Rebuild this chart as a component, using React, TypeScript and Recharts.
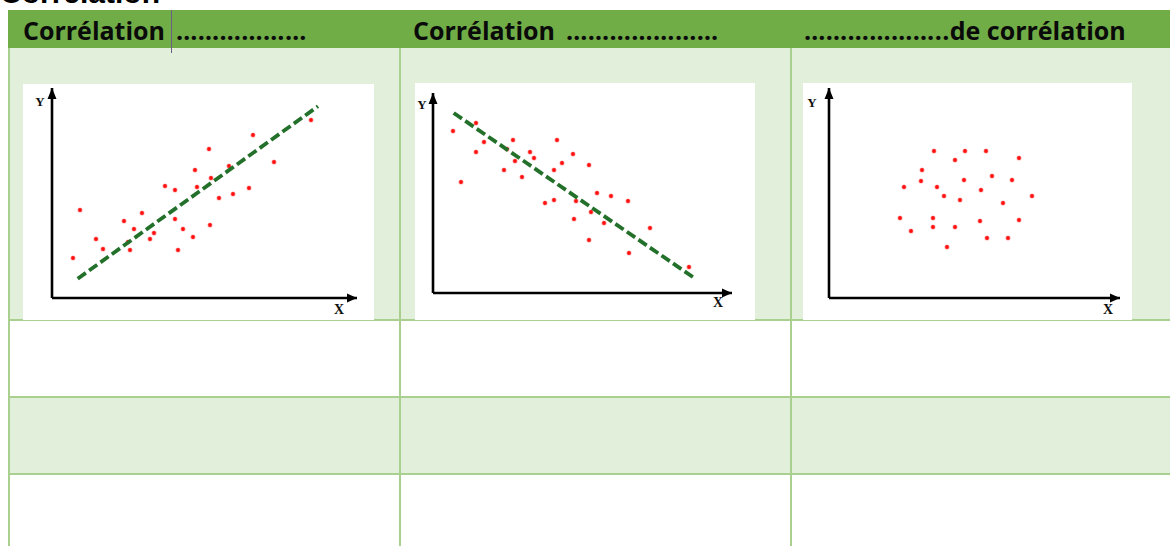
import { ScatterChart, Scatter, XAxis, YAxis } from 'recharts';

// positive correlation cloud
const posX = [2.1, 2.8, 4.4, 5.1, 7.2, 7.6, 7.8, 8.2, 9.0, 9.8, 10.2, 11.3, 12.3, 12.3, 12.6, 13.1, 14.1, 14.3, 14.5, 15.7, 15.8, 15.9, 16.7, 17.7, 18.1, 19.7, 20.1, 22.2, 25.9];
const posY = [4.0, 8.8, 5.9, 4.9, 7.7, 5.6, 4.8, 6.9, 8.5, 5.9, 6.5, 11.2, 10.8, 7.9, 4.8, 6.9, 6.1, 12.8, 11.1, 14.9, 7.3, 12.0, 10.0, 13.2, 10.4, 11.0, 16.3, 13.6, 17.8];
const posTrend = [{ x: 2.57, y: 1.93 }, { x: 26.6, y: 19.17 }];

// negative correlation cloud
const negX = [2.0, 2.8, 4.3, 4.3, 5.1, 7.1, 7.4, 8.0, 8.2, 8.9, 9.7, 10.1, 11.2, 12.1, 12.1, 12.4, 12.9, 14.0, 14.1, 14.3, 15.6, 15.6, 15.8, 16.4, 17.1, 17.8, 19.5, 19.6, 21.7, 25.6];
const negY = [16.2, 11.1, 17.0, 14.1, 15.1, 12.3, 14.4, 15.3, 13.2, 11.6, 14.1, 13.5, 9.0, 12.3, 9.3, 15.3, 13.0, 13.9, 7.4, 9.2, 12.8, 5.3, 8.1, 10.0, 7.0, 9.7, 9.2, 4.0, 6.5, 2.6];
const negTrend = [{ x: 2.07, y: 18.0 }, { x: 26.13, y: 1.5 }];

// no correlation cloud
const noneX = [7.1, 7.5, 8.2, 9.2, 9.3, 10.4, 10.4, 10.5, 10.8, 11.5, 11.8, 12.6, 12.6, 13.1, 13.5, 13.6, 15.1, 15.2, 15.7, 15.8, 16.3, 17.4, 17.9, 18.3, 19.0, 19.0, 20.3];
const noneY = [8.0, 11.1, 6.7, 11.7, 12.8, 8.0, 7.1, 14.7, 11.1, 10.2, 5.1, 13.8, 7.1, 9.8, 11.8, 14.7, 7.7, 10.8, 14.7, 6.0, 12.2, 9.5, 6.0, 11.8, 14.0, 7.8, 10.2];

const headWords = ['Corrélation', 'Corrélation', ''];
const headDots = ['………………', '…………………', '………………..'];
const headTails = ['', '', 'de corrélation'];

const GREEN = '#70AD47';
const LIGHT = '#E2EFDA';
const BORDER = '#A9D08E';

const zip = (xs: number[], ys: number[]) => xs.map((x, i) => ({ x, y: ys[i] }));

interface PlotCfg {
  left: number; top: number; w: number; h: number;
  yW: number; xH: number; mTop: number; mRight: number;
  xMax: number; yMax: number;
  xLab: [number, number]; yLab: [number, number];
  points: { x: number; y: number }[];
  trend?: { x: number; y: number }[];
}

const Dot = (p: any) => (
  <g>
    <circle cx={p.cx} cy={p.cy} r={2.6} fill="#ff8080" opacity={0.6} />
    <circle cx={p.cx} cy={p.cy} r={1.9} fill="#ff1010" />
  </g>
);

function Plot(c: PlotCfg) {
  const ends = [
    { x: c.xMax, y: 0, t: 'X' },
    { x: 0, y: c.yMax, t: 'Y' },
  ];
  const EndShape = (p: any) => {
    const { cx, cy } = p;
    if (p.payload.t === 'X') {
      return (
        <g>
          <path d={`M${cx},${cy} L${cx - 10},${cy - 4.5} L${cx - 10},${cy + 4.5} Z`} fill="#000" />
          <text x={cx - c.xLab[0]} y={cy + c.xLab[1]} textAnchor="middle" fontFamily="Liberation Serif" fontWeight={700} fontSize={14} fill="#111">X</text>
        </g>
      );
    }
    return (
      <g>
        <path d={`M${cx},${cy} L${cx - 4.5},${cy + 11} L${cx + 4.5},${cy + 11} Z`} fill="#000" />
        <text x={cx - c.yLab[0]} y={cy + c.yLab[1]} textAnchor="middle" fontFamily="Liberation Serif" fontWeight={700} fontSize={13} fill="#111">Y</text>
      </g>
    );
  };
  return (
    <div style={{ position: 'absolute', left: c.left, top: c.top, width: c.w, height: c.h, background: '#fff' }}>
      <ScatterChart width={c.w} height={c.h} margin={{ top: c.mTop, right: c.mRight, left: 0, bottom: 0 }}>
        <XAxis type="number" dataKey="x" domain={[0, c.xMax]} ticks={[0, c.xMax]} height={c.xH}
          tick={false} tickLine={false} axisLine={{ stroke: '#000', strokeWidth: 2.6 }} />
        <YAxis type="number" dataKey="y" domain={[0, c.yMax]} ticks={[0, c.yMax]} width={c.yW}
          tick={false} tickLine={false} axisLine={{ stroke: '#000', strokeWidth: 2.6 }} />
        <Scatter data={c.points} shape={Dot} isAnimationActive={false} />
        {c.trend && (
          <Scatter data={c.trend} shape={() => <g />} isAnimationActive={false}
            line={{ stroke: '#23702a', strokeWidth: 3.8, strokeDasharray: '10 4', strokeLinecap: 'butt' }} />
        )}
        <Scatter data={ends} shape={EndShape} isAnimationActive={false} />
      </ScatterChart>
    </div>
  );
}

export default function App() {
  const cols = [9, 400, 791];
  const textX = [23, 413, 804];
  return (
    <div style={{ position: 'absolute', left: 0, top: 0, width: 1170, height: 546, overflow: 'hidden', background: '#fff' }}>
      <div style={{ position: 'absolute', left: 0, top: -22, fontFamily: 'Liberation Sans', fontWeight: 700, fontSize: 30, lineHeight: '30px', color: '#000', whiteSpace: 'nowrap' }}>
        Corrélation
      </div>
      {/* header band */}
      <div style={{ position: 'absolute', left: 8, top: 10, width: 1162, height: 38, background: GREEN }} />
      {/* light rows */}
      <div style={{ position: 'absolute', left: 8, top: 48, width: 1162, height: 272, background: LIGHT }} />
      <div style={{ position: 'absolute', left: 8, top: 397, width: 1162, height: 77, background: LIGHT }} />
      {/* horizontal borders */}
      {[319, 396, 473].map(y => (
        <div key={y} style={{ position: 'absolute', left: 8, top: y, width: 1162, height: 2, background: BORDER }} />
      ))}
      {/* vertical borders */}
      {cols.map(x => (
        <div key={x} style={{ position: 'absolute', left: x - 1, top: 48, width: 2, height: 498, background: BORDER }} />
      ))}
      {headWords.map((w, i) => (
        <div key={i} style={{ position: 'absolute', left: textX[i], top: 11, height: 38, lineHeight: '38px', fontFamily: 'Open Sans', fontWeight: 700, fontSize: 25, color: '#0a0a0a', whiteSpace: 'nowrap', fontVariantLigatures: 'none' }}>
          {w}
          <span style={{ marginLeft: w ? 11 : 0, letterSpacing: 0.4 }}>{headDots[i]}</span>
          {headTails[i]}
        </div>
      ))}
      <div style={{ position: 'absolute', left: 171, top: 10, width: 1, height: 43, background: '#6a5d86' }} />
      <Plot left={23} top={84} w={351} h={236} yW={29} xH={22} mTop={4} mRight={17} xMax={30.5} yMax={21}
        xLab={[18, 16]} yLab={[12, 18]} points={zip(posX, posY)} trend={posTrend} />
      <Plot left={415} top={83} w={340} h={237} yW={18} xH={27} mTop={10} mRight={23} xMax={29.9} yMax={20}
        xLab={[14, 14]} yLab={[11, 16]} points={zip(negX, negY)} trend={negTrend} />
      <Plot left={803} top={83} w={329} h={237} yW={26} xH={22} mTop={5} mRight={12} xMax={29.1} yMax={21}
        xLab={[12, 16]} yLab={[17, 19]} points={zip(noneX, noneY)} />
    </div>
  );
}
